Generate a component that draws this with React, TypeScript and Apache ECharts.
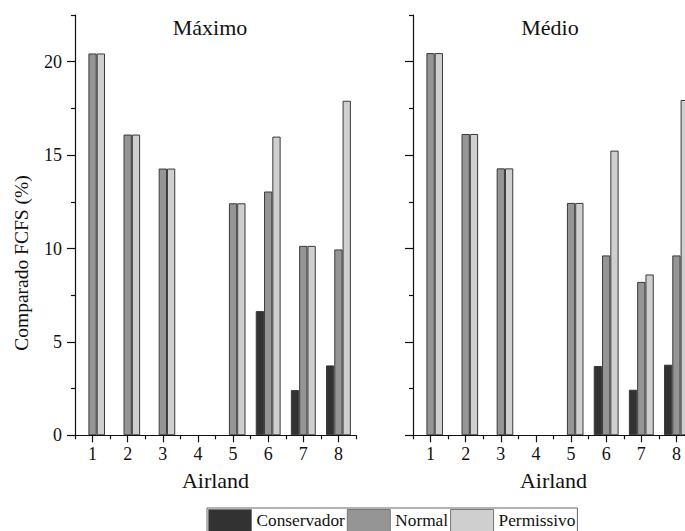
import React, { useEffect, useRef } from "react";
import * as echarts from "echarts";

const categories = ["1", "2", "3", "4", "5", "6", "7", "8"];
const seriesNames = ["Conservador", "Normal", "Permissivo"];

const maxConservador = [0, 0, 0, 0, 0, 6.65, 2.42, 3.74];
const maxNormal = [20.44, 16.1, 14.28, 0, 12.42, 13.05, 10.14, 9.95];
const maxPermissivo = [20.44, 16.1, 14.28, 0, 12.42, 15.99, 10.14, 17.91];

const medConservador = [0, 0, 0, 0, 0, 3.71, 2.44, 3.78];
const medNormal = [20.46, 16.13, 14.29, 0, 12.44, 9.63, 8.21, 9.63];
const medPermissivo = [20.46, 16.13, 14.29, 0, 12.44, 15.24, 8.61, 17.95];

const yMajorTicks = [0, 5, 10, 15, 20];
const yMinorTicks = [2.5, 7.5, 12.5, 17.5, 22.5];
const yMin = 0;
const yMax = 22.5;

const panelTitles = ["Máximo", "Médio"];
const xAxisTitle = "Airland";
const yAxisTitle = "Comparado FCFS (%)";

const colors = ["#323232", "#959595", "#cfcfcf"];
const FONT = "Liberation Serif";

export default function App() {
  const ref = useRef<HTMLDivElement>(null);

  useEffect(() => {
    if (!ref.current) return;
    const chart = echarts.init(ref.current, undefined, { renderer: "svg" });

    const grids = [
      { left: 75, top: 15, width: 281, height: 420.3 },
      { left: 413, top: 15, width: 281, height: 420.3 },
    ];

    const xAxes: any[] = [];
    const yAxes: any[] = [];
    grids.forEach((_, gi) => {
      xAxes.push({
        type: "category",
        gridIndex: gi,
        data: categories,
        boundaryGap: true,
        z: 5,
        name: xAxisTitle,
        nameLocation: "middle",
        nameGap: 34,
        nameTextStyle: { fontFamily: FONT, fontSize: 22, color: "#111" },
        axisLine: { show: true, lineStyle: { color: "#111", width: 1.2 } },
        axisTick: { show: true, alignWithLabel: true, interval: 0, length: 7, lineStyle: { color: "#111", width: 1.2 } },
        axisLabel: { interval: 0, margin: 10, fontFamily: FONT, fontSize: 18, color: "#111" },
        splitLine: { show: false },
      });
      xAxes.push({
        type: "category",
        gridIndex: gi,
        data: categories,
        boundaryGap: true,
        position: "bottom",
        axisLine: { show: false },
        axisTick: { show: true, interval: 0, length: 4, lineStyle: { color: "#111", width: 1.2 } },
        axisLabel: { show: false, interval: 0 },
        splitLine: { show: false },
      });
      yAxes.push({
        type: "value",
        gridIndex: gi,
        min: yMin,
        max: yMax,
        z: 5,
        axisLine: { show: true, lineStyle: { color: "#111", width: 1.2 } },
        axisTick: { show: true, customValues: yMajorTicks, length: 8, lineStyle: { color: "#111", width: 1.2 } },
        axisLabel: {
          show: gi === 0,
          customValues: yMajorTicks,
          margin: 13,
          fontFamily: FONT,
          fontSize: 18,
          color: "#111",
        },
        splitLine: { show: false },
      });
      yAxes.push({
        type: "value",
        gridIndex: gi,
        min: yMin,
        max: yMax,
        position: "left",
        axisLine: { show: false },
        axisTick: { show: true, customValues: yMinorTicks, length: 4, lineStyle: { color: "#111", width: 1.2 } },
        axisLabel: { show: false },
        splitLine: { show: false },
      });
    });

    const panelData = [
      [maxConservador, maxNormal, maxPermissivo],
      [medConservador, medNormal, medPermissivo],
    ];

    const series: any[] = [];
    panelData.forEach((sets, gi) => {
      sets.forEach((vals, si) => {
        series.push({
          type: "bar",
          name: seriesNames[si],
          xAxisIndex: gi * 2,
          yAxisIndex: gi * 2,
          data: vals.map((v) => (v === 0 ? { value: v, itemStyle: { borderWidth: 0 } } : v)),
          z: 1,
          barWidth: 8.3,
          barGap: "0%",
          itemStyle: { color: colors[si], borderColor: "#3a3a3a", borderWidth: 1 },
          emphasis: { disabled: true },
        });
      });
    });

    chart.setOption({
      animation: false,
      grid: grids,
      xAxis: xAxes,
      yAxis: yAxes,
      series,
      legend: {
        data: seriesNames,
        left: 207,
        top: 508,
        orient: "horizontal",
        icon: "rect",
        itemWidth: 43,
        itemHeight: 22,
        itemGap: 2,
        padding: [1, 2, 1, 1],
        borderColor: "#666",
        borderWidth: 1,
        selectedMode: false,
        itemStyle: { borderColor: "#777", borderWidth: 1 },
        textStyle: { fontFamily: FONT, fontSize: 17.3, color: "#111" },
      },
      graphic: [
        {
          type: "text",
          x: 210,
          y: 27,
          style: {
            text: panelTitles[0],
            textAlign: "center",
            textVerticalAlign: "middle",
            fontFamily: FONT,
            fontSize: 22,
            fill: "#111",
          },
        },
        {
          type: "text",
          x: 550,
          y: 27,
          style: {
            text: panelTitles[1],
            textAlign: "center",
            textVerticalAlign: "middle",
            fontFamily: FONT,
            fontSize: 22,
            fill: "#111",
          },
        },
        {
          type: "text",
          x: 21,
          y: 263,
          rotation: Math.PI / 2,
          style: {
            text: yAxisTitle,
            textAlign: "center",
            textVerticalAlign: "middle",
            fontFamily: FONT,
            fontSize: 19.5,
            fill: "#111",
          },
        },
      ],
    });

    return () => {
      chart.dispose();
    };
  }, []);

  return (
    <div
      style={{
        position: "fixed",
        left: 0,
        top: 0,
        width: 685,
        height: 531,
        overflow: "hidden",
        background: "#fff",
      }}
    >
      <div ref={ref} style={{ width: 710, height: 531 }} />
    </div>
  );
}
